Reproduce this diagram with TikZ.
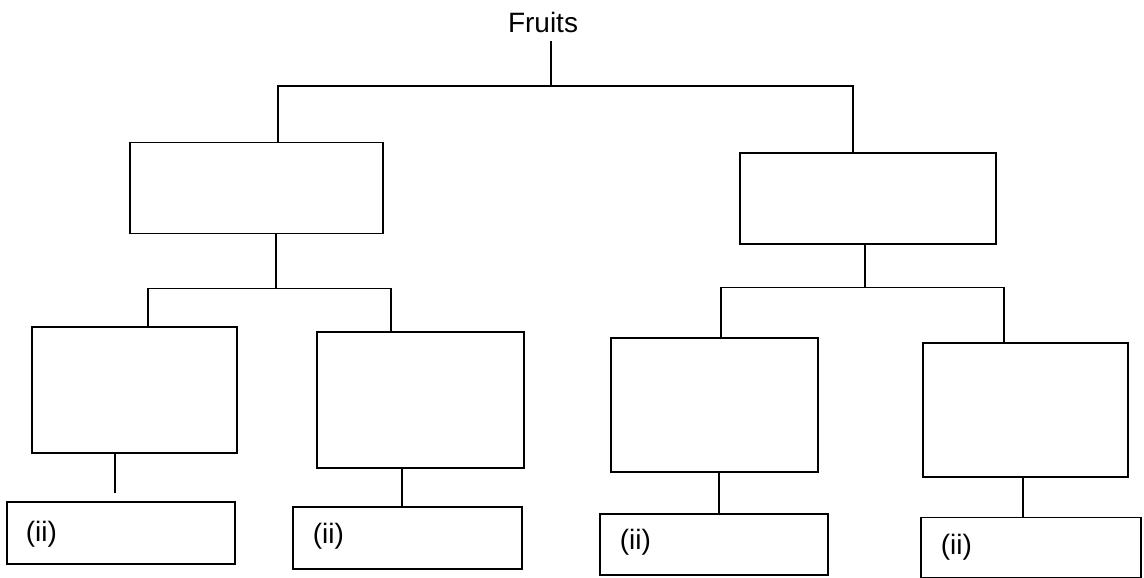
\documentclass[tikz,border=0pt]{standalone}
\usepackage{fontspec}
\setmainfont{Liberation Sans}
\begin{document}
\begin{tikzpicture}[x=1pt,y=-1pt,line width=1.5pt,
		lbl/.style={inner sep=0pt,font=\fontsize{28}{34}\selectfont},
		box/.style 2 args={draw,inner sep=0pt,outer sep=0pt,minimum width=#1,minimum height=#2}]
				\fill[white] (0,0) rectangle (1144,578);
				\useasboundingbox (0,0) rectangle (1144,578);
				%title
				\node[lbl,anchor=base] (fruits) at (543,33) {Fruits};
				%second level
				\node[box={253pt}{91pt}] (A) at (256.5,188) {};
				\node[box={256pt}{91pt}] (B) at (868,198.5) {};
				%third level
				\node[box={205pt}{126pt}] (A1) at (134.5,390) {};
				\node[box={207pt}{136pt}] (A2) at (420.5,400) {};
				\node[box={207pt}{134pt}] (B1) at (714.5,405) {};
				\node[box={205pt}{134pt}] (B2) at (1025.5,410) {};
				%answer boxes
				\node[box={228pt}{62pt}] (A1l) at (121,533) {};
				\node[box={229pt}{62pt}] (A2l) at (407.5,538) {};
				\node[box={228pt}{61pt}] (B1l) at (714,544.5) {};
				\node[box={220pt}{60pt}] (B2l) at (1031,547.5) {};
				\node[lbl,anchor=base west] (A1t) at ([shift={(18,39)}]A1l.north west) {(ii)};
				\node[lbl,anchor=base west] (A2t) at ([shift={(19,36)}]A2l.north west) {(ii)};
				\node[lbl,anchor=base west] (B1t) at ([shift={(19,35)}]B1l.north west) {(ii)};
				\node[lbl,anchor=base west] (B2t) at ([shift={(19,37)}]B2l.north west) {(ii)};
				%junctions
				\coordinate (ftop) at (551,41);
				\coordinate (fj) at (551,86);
				\coordinate (fl) at (278,86);
				\coordinate (fr) at (853,86);
				\coordinate (aj) at (276,288.5);
				\coordinate (al) at (148,288.5);
				\coordinate (ar) at (391,288.5);
				\coordinate (bj) at (865,287.5);
				\coordinate (bl) at (721,287.5);
				\coordinate (br) at (1004,287.5);
				\coordinate (a1j) at (115,493);
				\coordinate (a2s) at (402,0);
				\coordinate (b1s) at (719,0);
				\coordinate (b2s) at (1023,0);
				%top bar
				\draw (ftop) -- (fj);
				\draw (A.north -| fl) -- (fl) -- (fr) -- (B.north -| fr);
				%left branch
				\draw (A.south -| aj) -- (aj);
				\draw (A1.north -| al) -- (al) -- (ar) -- (A2.north -| ar);
				%right branch
				\draw (B.south -| bj) -- (bj);
				\draw (B1.north -| bl) -- (bl) -- (br) -- (B2.north -| br);
				%stems to answers
				\draw (A1.south -| a1j) -- (a1j);
				\draw (A2.south -| a2s) -- (A2l.north -| a2s);
				\draw (B1.south -| b1s) -- (B1l.north -| b1s);
				\draw (B2.south -| b2s) -- (B2l.north -| b2s);
			\end{tikzpicture}
\end{document}
